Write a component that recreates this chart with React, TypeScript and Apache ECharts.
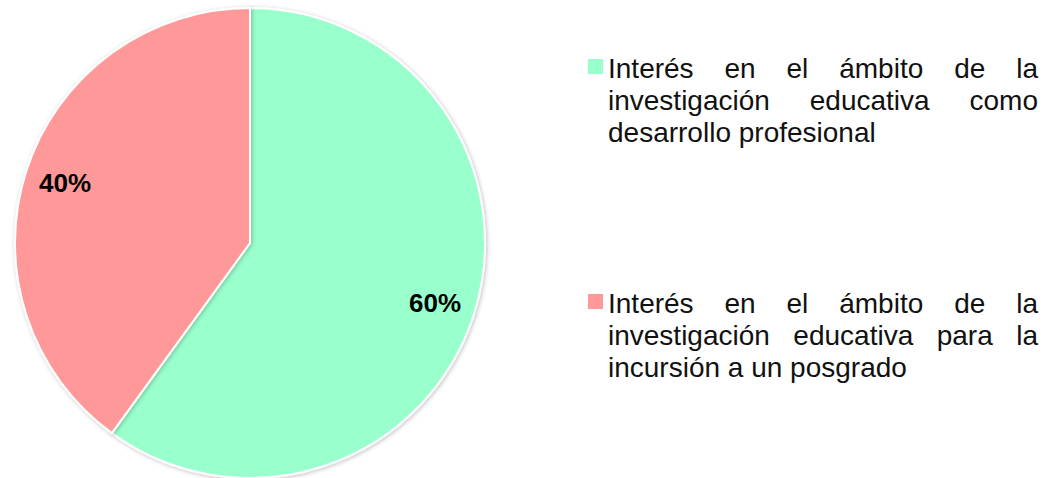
import React, { useEffect, useRef } from "react";
import * as echarts from "echarts";

const categories = [
  "Interés en el ámbito de la investigación educativa como desarrollo profesional",
  "Interés en el ámbito de la investigación educativa para la incursión a un posgrado",
];
const values = [60, 40];
const colors = ["#99FFCC", "#FF9999"];
const legendLines = [
  ["Interés en el ámbito de la", "investigación educativa como", "desarrollo profesional"],
  ["Interés en el ámbito de la", "investigación educativa para la", "incursión a un posgrado"],
];

const FONT = "Liberation Sans, Arial, sans-serif";
const FS = 28;

function measure(text: string, ctx: CanvasRenderingContext2D | null): number {
  if (ctx) return ctx.measureText(text).width;
  return text.length * FS * 0.5;
}

export default function App() {
  const ref = useRef<HTMLDivElement>(null);
  useEffect(() => {
    document.body.style.margin = "0";
    const chart = echarts.init(ref.current!, null, { renderer: "svg" });
    const canvas = document.createElement("canvas");
    const ctx = canvas.getContext("2d");
    if (ctx) ctx.font = `${FS}px ${FONT}`;

    const textLeft = 608;
    const textRight = 1038;
    const blockTops = [68, 303];
    const lineH = 32;
    const graphics: any[] = [];
    legendLines.forEach((lines, li) => {
      graphics.push({
        type: "rect",
        shape: { x: 588, y: blockTops[li] - 9, width: 15, height: 15 },
        style: { fill: colors[li] },
      });
      lines.forEach((line, idx) => {
        const y = blockTops[li] + idx * lineH;
        const justify = idx < lines.length - 1;
        const words = line.split(" ");
        if (!justify || words.length < 2) {
          graphics.push({
            type: "text",
            x: textLeft,
            y,
            style: { text: line, font: `${FS}px ${FONT}`, fill: "#111", textAlign: "left", textVerticalAlign: "middle" },
          });
        } else {
          const widths = words.map((w) => measure(w, ctx));
          const total = widths.reduce((a, b) => a + b, 0);
          const gap = (textRight - textLeft - total) / (words.length - 1);
          let x = textLeft;
          words.forEach((w, wi) => {
            graphics.push({
              type: "text",
              x,
              y,
              style: { text: w, font: `${FS}px ${FONT}`, fill: "#111", textAlign: "left", textVerticalAlign: "middle" },
            });
            x += widths[wi] + gap;
          });
        }
      });
    });

    const data = categories.map((name, i) => ({ name, value: values[i], itemStyle: { color: colors[i] } }));
    chart.setOption({
      animation: false,
      graphic: graphics,
      series: [
        {
          type: "pie",
          center: [250, 243],
          radius: [0, 235],
          startAngle: 90,
          clockwise: true,
          silent: true,
          label: { show: false },
          labelLine: { show: false },
          itemStyle: {
            borderColor: "#ffffff",
            borderWidth: 2,
            shadowBlur: 4,
            shadowColor: "rgba(0,0,0,0.25)",
            shadowOffsetX: 1,
            shadowOffsetY: 1,
          },
          data,
        },
        {
          type: "pie",
          center: [250, 243],
          radius: [148, 235],
          startAngle: 90,
          clockwise: true,
          silent: true,
          itemStyle: { color: "rgba(0,0,0,0)", borderWidth: 0 },
          label: {
            show: true,
            position: "inside",
            formatter: (p: any) => `${p.value}%`,
            fontFamily: FONT,
            fontWeight: "bold",
            fontSize: 26,
            color: "#000",
          },
          labelLine: { show: false },
          data: categories.map((name, i) => ({ name, value: values[i] })),
        },
      ],
    });
    return () => chart.dispose();
  }, []);
  return <div ref={ref} style={{ width: 1054, height: 478 }} />;
}
